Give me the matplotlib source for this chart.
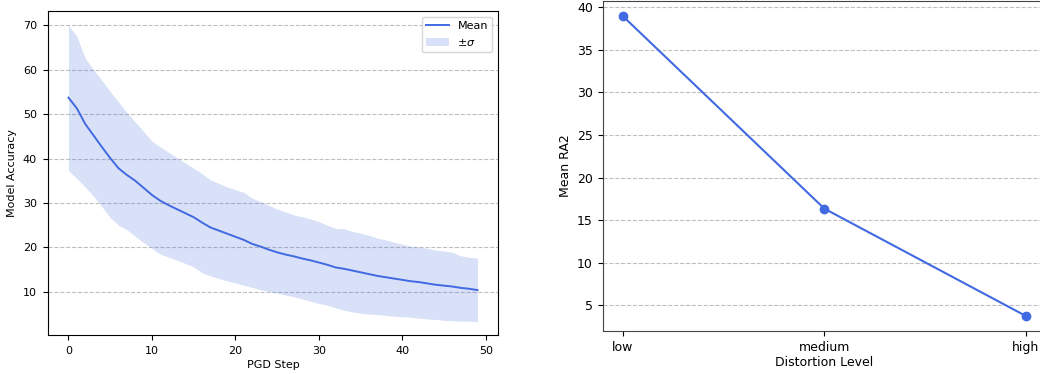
import matplotlib
matplotlib.use('Agg')
from matplotlib import pyplot as plt

## left panel: accuracy per PGD step
steps = list(range(50))
mean_acc = [53.7, 51.3, 47.8, 45.2, 42.6, 40.1, 37.8, 36.3, 35.0, 33.4,
            31.8, 30.5, 29.5, 28.6, 27.7, 26.8, 25.6, 24.5, 23.8, 23.1,
            22.4, 21.7, 20.8, 20.2, 19.5, 18.9, 18.4, 18.0, 17.5, 17.1,
            16.6, 16.1, 15.5, 15.2, 14.8, 14.4, 14.0, 13.6, 13.3, 13.0,
            12.7, 12.4, 12.2, 11.9, 11.6, 11.4, 11.2, 10.9, 10.7, 10.4]
upper_acc = [70.0, 67.5, 62.6, 60.0, 57.6, 55.1, 52.7, 50.3, 48.2, 46.1,
             43.9, 42.6, 41.4, 40.2, 39.0, 37.8, 36.6, 35.2, 34.4, 33.6,
             33.0, 32.4, 31.1, 30.3, 29.5, 28.6, 28.0, 27.3, 26.9, 26.4,
             25.8, 25.0, 24.3, 24.2, 23.6, 23.2, 22.7, 22.1, 21.7, 21.2,
             20.7, 20.3, 20.1, 19.8, 19.4, 19.2, 18.9, 18.1, 17.8, 17.6]
lower_acc = [37.3, 35.5, 33.6, 31.5, 29.2, 26.7, 25.0, 24.0, 22.5, 21.1,
             19.8, 18.5, 17.8, 17.1, 16.4, 15.6, 14.3, 13.6, 13.0, 12.5,
             12.0, 11.5, 11.0, 10.5, 10.1, 9.7, 9.3, 8.9, 8.4, 7.9,
             7.4, 7.0, 6.4, 5.9, 5.5, 5.2, 5.0, 4.9, 4.7, 4.5,
             4.4, 4.3, 4.1, 3.9, 3.8, 3.6, 3.5, 3.4, 3.4, 3.3]

## right panel: mean RA2 per distortion level
levels = ['low', 'medium', 'high']
mean_ra2 = [38.95, 16.35, 3.75]

color = 'royalblue'

fig = plt.figure(figsize=(10.4, 3.74), dpi=100)

ax1 = fig.add_axes([0.0462, 0.1043, 0.4326, 0.8663])
ax1.fill_between(steps, lower_acc, upper_acc, color=color, alpha=0.2,
                 linewidth=0, label=r'$\pm\sigma$')
ax1.plot(steps, mean_acc, color=color, linewidth=1.4, label='Mean')
ax1.set_ylim(0.3, 73.2)
ax1.set_xlabel('PGD Step', fontsize=8, labelpad=3)
ax1.set_ylabel('Model Accuracy', fontsize=8)
ax1.tick_params(labelsize=8, pad=4.5)
ax1.grid(axis='y', linestyle='--', color='gray', alpha=0.5, linewidth=0.8)
ax1.set_axisbelow(True)
h, l = ax1.get_legend_handles_labels()
ax1.legend(h[::-1], l[::-1], loc='upper right', fontsize=8)

ax2 = fig.add_axes([0.5795, 0.115, 0.4263, 0.882])
ax2.plot(levels, mean_ra2, color=color, marker='o', markersize=6, linewidth=1.5)
ax2.set_xlabel('Distortion Level', fontsize=9, labelpad=2)
ax2.set_ylabel('Mean RA2', fontsize=9)
ax2.tick_params(labelsize=9)
ax2.grid(axis='y', linestyle='--', color='gray', alpha=0.5, linewidth=0.8)
ax2.set_axisbelow(True)
for s in ax2.spines.values():
    s.set_color('#444444')

plt.savefig('out.png', dpi=100)
